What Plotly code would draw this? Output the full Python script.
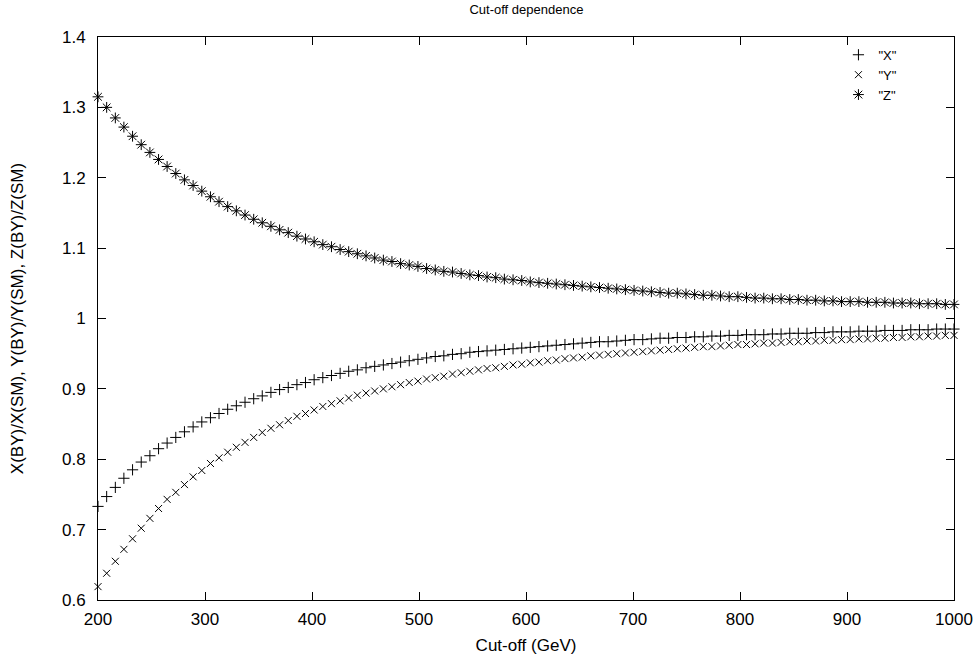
import plotly.graph_objects as go

cutoff = [
    200.0, 208.1, 216.2, 224.2, 232.3, 240.4, 248.5, 256.6, 264.6, 272.7,
    280.8, 288.9, 297.0, 305.1, 313.1, 321.2, 329.3, 337.4, 345.5, 353.5,
    361.6, 369.7, 377.8, 385.9, 393.9, 402.0, 410.1, 418.2, 426.3, 434.3,
    442.4, 450.5, 458.6, 466.7, 474.7, 482.8, 490.9, 499.0, 507.1, 515.2,
    523.2, 531.3, 539.4, 547.5, 555.6, 563.6, 571.7, 579.8, 587.9, 596.0,
    604.0, 612.1, 620.2, 628.3, 636.4, 644.4, 652.5, 660.6, 668.7, 676.8,
    684.8, 692.9, 701.0, 709.1, 717.2, 725.3, 733.3, 741.4, 749.5, 757.6,
    765.7, 773.7, 781.8, 789.9, 798.0, 806.1, 814.1, 822.2, 830.3, 838.4,
    846.5, 854.5, 862.6, 870.7, 878.8, 886.9, 894.9, 903.0, 911.1, 919.2,
    927.3, 935.4, 943.4, 951.5, 959.6, 967.7, 975.8, 983.8, 991.9, 1000.0,
]

ratio_x = [
    0.733, 0.747, 0.760, 0.773, 0.785, 0.796, 0.805, 0.815, 0.823, 0.831,
    0.839, 0.846, 0.853, 0.859, 0.865, 0.871, 0.876, 0.881, 0.886, 0.890,
    0.895, 0.899, 0.902, 0.906, 0.909, 0.913, 0.916, 0.919, 0.922, 0.925,
    0.927, 0.930, 0.932, 0.934, 0.936, 0.938, 0.940, 0.942, 0.944, 0.946,
    0.947, 0.949, 0.950, 0.952, 0.953, 0.954, 0.955, 0.956, 0.957, 0.958,
    0.959, 0.960, 0.961, 0.962, 0.963, 0.964, 0.965, 0.966, 0.967, 0.967,
    0.968, 0.969, 0.970, 0.970, 0.971, 0.972, 0.972, 0.973, 0.973, 0.974,
    0.974, 0.975, 0.975, 0.976, 0.976, 0.977, 0.977, 0.977, 0.978, 0.978,
    0.979, 0.979, 0.979, 0.980, 0.980, 0.981, 0.981, 0.981, 0.982, 0.982,
    0.982, 0.983, 0.983, 0.983, 0.984, 0.984, 0.984, 0.985, 0.985, 0.985,
]

ratio_y = [
    0.619, 0.638, 0.655, 0.672, 0.687, 0.702, 0.716, 0.730, 0.743, 0.753,
    0.764, 0.775, 0.784, 0.794, 0.802, 0.810, 0.817, 0.824, 0.831, 0.838,
    0.844, 0.849, 0.855, 0.861, 0.865, 0.870, 0.875, 0.879, 0.883, 0.887,
    0.891, 0.894, 0.897, 0.900, 0.903, 0.906, 0.909, 0.911, 0.914, 0.916,
    0.918, 0.921, 0.923, 0.925, 0.927, 0.929, 0.930, 0.932, 0.934, 0.935,
    0.937, 0.938, 0.940, 0.941, 0.943, 0.944, 0.945, 0.947, 0.948, 0.949,
    0.950, 0.951, 0.952, 0.953, 0.954, 0.955, 0.956, 0.957, 0.958, 0.959,
    0.960, 0.960, 0.961, 0.962, 0.963, 0.963, 0.964, 0.965, 0.965, 0.966,
    0.967, 0.967, 0.968, 0.968, 0.969, 0.969, 0.970, 0.970, 0.971, 0.971,
    0.972, 0.972, 0.973, 0.973, 0.974, 0.974, 0.975, 0.975, 0.976, 0.976,
]

ratio_z = [
    1.315, 1.300, 1.285, 1.272, 1.259, 1.247, 1.236, 1.226, 1.216, 1.206,
    1.197, 1.189, 1.181, 1.173, 1.166, 1.159, 1.153, 1.147, 1.141, 1.136,
    1.131, 1.126, 1.122, 1.117, 1.113, 1.109, 1.105, 1.102, 1.098, 1.095,
    1.092, 1.089, 1.086, 1.083, 1.081, 1.078, 1.076, 1.074, 1.071, 1.069,
    1.067, 1.066, 1.064, 1.062, 1.061, 1.059, 1.058, 1.056, 1.055, 1.054,
    1.052, 1.051, 1.050, 1.049, 1.048, 1.047, 1.046, 1.045, 1.044, 1.043,
    1.042, 1.041, 1.040, 1.039, 1.038, 1.037, 1.036, 1.036, 1.035, 1.034,
    1.033, 1.033, 1.032, 1.031, 1.031, 1.030, 1.029, 1.029, 1.028, 1.028,
    1.027, 1.027, 1.026, 1.026, 1.025, 1.025, 1.024, 1.024, 1.024, 1.023,
    1.023, 1.023, 1.022, 1.022, 1.022, 1.021, 1.021, 1.021, 1.020, 1.020,
]

series_names = ['"X"', '"Y"', '"Z"']
x_ticks = [200, 300, 400, 500, 600, 700, 800, 900, 1000]
y_ticks = [0.6, 0.7, 0.8, 0.9, 1.0, 1.1, 1.2, 1.3, 1.4]

FONT = "Liberation Sans, Arial, sans-serif"

fig = go.Figure()
for name, vals, sym, size in [
    (series_names[0], ratio_x, "cross-thin", 8),
    (series_names[1], ratio_y, "x-thin", 7),
    (series_names[2], ratio_z, "asterisk", 9),
]:
    fig.add_trace(go.Scatter(
        x=cutoff, y=vals, mode="markers", name=name, cliponaxis=False,
        marker=dict(symbol=sym, size=size, color="black",
                    line=dict(color="black", width=1)),
    ))

axis_common = dict(
    showgrid=False, zeroline=False, showline=True, linecolor="black",
    linewidth=1, mirror="ticks", ticks="inside", ticklen=8, tickcolor="black",
    tickwidth=1, tickfont=dict(family=FONT, size=17, color="black"),
    automargin=False,
)

fig.update_layout(
    width=979, height=663,
    paper_bgcolor="white", plot_bgcolor="white",
    margin=dict(l=98, r=25, t=37, b=63),
    font=dict(family=FONT, color="black"),
    title=dict(text="Cut-off dependence", x=0.5377, xanchor="center",
               yref="container", y=0.985, yanchor="middle",
               font=dict(family=FONT, size=13, color="black")),
    xaxis=dict(range=[200, 1000], tickvals=x_ticks, ticklabelstandoff=4,
               title=dict(text="Cut-off (GeV)", standoff=10,
                          font=dict(family=FONT, size=17)),
               **axis_common),
    yaxis=dict(range=[0.6, 1.4], tickvals=y_ticks,
               ticktext=[f"{v:g}" for v in y_ticks], ticklabelstandoff=8,
               title=dict(text="X(BY)/X(SM), Y(BY)/Y(SM), Z(BY)/Z(SM)",
                          standoff=34, font=dict(family=FONT, size=17)),
               **axis_common),
    showlegend=True,
    legend=dict(x=0.865, y=0.995, xanchor="left", yanchor="top",
                bgcolor="rgba(0,0,0,0)", borderwidth=0,
                font=dict(family=FONT, size=13, color="black"),
                tracegroupgap=0, itemwidth=30),
)

fig.write_html("out.html",
               config={"displayModeBar": False},
               post_script="document.body.style.margin='0';"
                           "document.body.style.padding='0';")
